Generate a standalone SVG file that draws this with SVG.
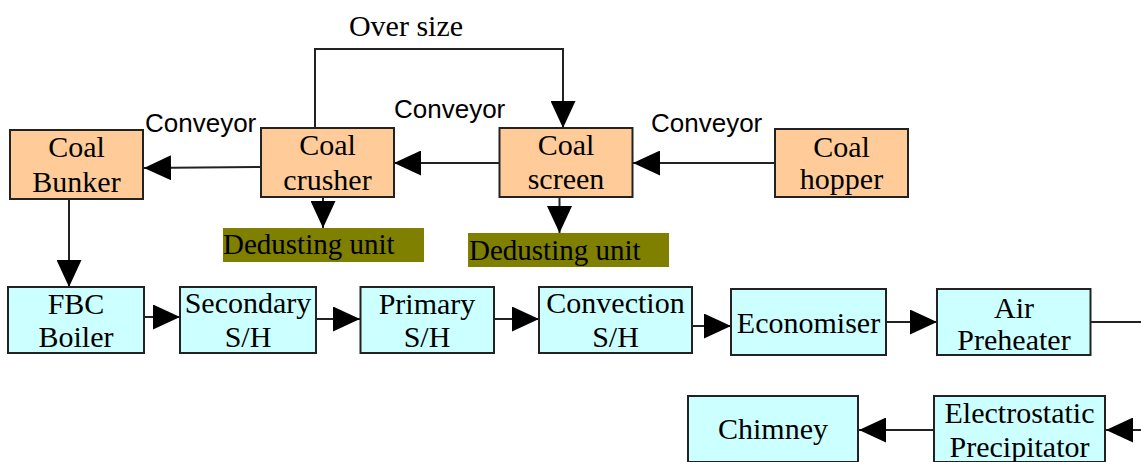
<svg xmlns="http://www.w3.org/2000/svg" width="1141" height="462" viewBox="0 0 1141 462">
<style>
.box{stroke:#222;stroke-width:2}
.coal{fill:#FFCC99}
.flue{fill:#CCFFFF}
.dust{fill:#7F7F00}
.t{font-family:"Liberation Serif","Times New Roman",serif;font-size:30px;fill:#000;text-anchor:middle}
.tl{font-family:"Liberation Serif","Times New Roman",serif;font-size:29px;fill:#000}
.s{font-family:"Liberation Sans",Arial,sans-serif;font-size:26px;fill:#000}
.c{fill:none;stroke:#222;stroke-width:2}
</style>
<defs>
<marker id="ah" markerUnits="userSpaceOnUse" markerWidth="27" markerHeight="25" refX="27" refY="12.5" orient="auto">
<path d="M0,0 L27,12.5 L0,25 z" fill="#000"/>
</marker>
</defs>
<g id="connectors">
<path class="c" d="M261,167 L144,168" marker-end="url(#ah)"/>
<path class="c" d="M499,163 H394" marker-end="url(#ah)"/>
<path class="c" d="M775,163 H633" marker-end="url(#ah)"/>
<path class="c" d="M315,128 V49 H563 V128" marker-end="url(#ah)"/>
<path class="c" d="M323,197 V228" marker-end="url(#ah)"/>
<path class="c" d="M559.5,197 V233" marker-end="url(#ah)"/>
<path class="c" d="M69,199 V287" marker-end="url(#ah)"/>
<path class="c" d="M144,317 H180" marker-end="url(#ah)"/>
<path class="c" d="M316,319 H360" marker-end="url(#ah)"/>
<path class="c" d="M494,319 H539" marker-end="url(#ah)"/>
<path class="c" d="M692,326 H731" marker-end="url(#ah)"/>
<path class="c" d="M886,322 H937" marker-end="url(#ah)"/>
<path class="c" d="M1090,322 H1141"/>
<path class="c" d="M1141,430 H1106" marker-end="url(#ah)"/>
<path class="c" d="M934,430 H859" marker-end="url(#ah)"/>
<text class="t" x="406" y="36">Over size</text>
<text class="s" x="145" y="132">Conveyor</text>
<text class="s" x="394" y="118">Conveyor</text>
<text class="s" x="651" y="132">Conveyor</text>
</g>
<g id="coal-bunker">
<rect class="box coal" x="10" y="130" width="133" height="69"/>
<text class="t" x="76.5" y="157">Coal</text>
<text class="t" x="76.5" y="192">Bunker</text>
</g>
<g id="coal-crusher">
<rect class="box coal" x="261" y="128" width="133" height="69"/>
<text class="t" x="327.5" y="155">Coal</text>
<text class="t" x="327.5" y="190">crusher</text>
</g>
<g id="coal-screen">
<rect class="box coal" x="499.5" y="128" width="133" height="69"/>
<text class="t" x="566" y="155">Coal</text>
<text class="t" x="566" y="189">screen</text>
</g>
<g id="coal-hopper">
<rect class="box coal" x="775" y="129" width="133" height="68"/>
<text class="t" x="841.5" y="157">Coal</text>
<text class="t" x="841.5" y="189">hopper</text>
</g>
<g id="dedusting-1">
<rect class="dust" x="223" y="228" width="201" height="34"/>
<text class="tl" x="223" y="254">Dedusting unit</text>
</g>
<g id="dedusting-2">
<rect class="dust" x="468" y="233" width="201" height="34"/>
<text class="tl" x="469" y="260">Dedusting unit</text>
</g>
<g id="fbc-boiler">
<rect class="box flue" x="8" y="287" width="136" height="66"/>
<text class="t" x="76" y="314">FBC</text>
<text class="t" x="76" y="347">Boiler</text>
</g>
<g id="secondary-sh">
<rect class="box flue" x="180" y="287" width="136" height="66"/>
<text class="t" x="248" y="313">Secondary</text>
<text class="t" x="248" y="347">S/H</text>
</g>
<g id="primary-sh">
<rect class="box flue" x="360.5" y="287" width="133.5" height="66"/>
<text class="t" x="427" y="314">Primary</text>
<text class="t" x="427" y="347">S/H</text>
</g>
<g id="convection-sh">
<rect class="box flue" x="539" y="287" width="153" height="66"/>
<text class="t" x="615.5" y="313">Convection</text>
<text class="t" x="615.5" y="347">S/H</text>
</g>
<g id="economiser">
<rect class="box flue" x="731" y="289" width="155" height="66"/>
<text class="t" x="808.5" y="333">Economiser</text>
</g>
<g id="air-preheater">
<rect class="box flue" x="937" y="289" width="153.5" height="66"/>
<text class="t" x="1014" y="318">Air</text>
<text class="t" x="1014" y="350">Preheater</text>
</g>
<g id="chimney">
<rect class="box flue" x="688" y="396" width="170" height="66"/>
<text class="t" x="773" y="439">Chimney</text>
</g>
<g id="esp">
<rect class="box flue" x="934" y="396" width="171" height="66"/>
<text class="t" x="1019.5" y="423">Electrostatic</text>
<text class="t" x="1019.5" y="457">Precipitator</text>
</g>
</svg>
